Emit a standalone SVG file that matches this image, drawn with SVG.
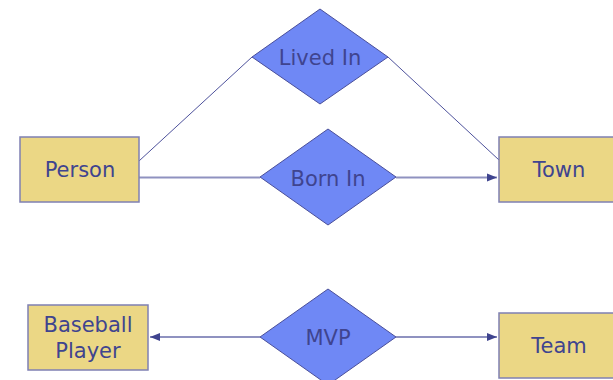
<svg xmlns="http://www.w3.org/2000/svg" width="613" height="380" viewBox="0 0 613 380">
<defs>
<style>
.ent{fill:#ebd785;stroke:#7f80b3;stroke-width:1.5}
.rel{fill:#6f88f5;stroke:#4a4f9a;stroke-width:1}
.lbl{font-family:"DejaVu Sans",Verdana,sans-serif;font-size:21px;fill:#3f448f;text-anchor:middle}
.c{stroke:#4e529c;stroke-width:1;fill:none}
.c2{stroke:#8f92c0;stroke-width:2;fill:none}
</style>
<marker id="ah" viewBox="0 0 10 10" refX="10" refY="5" markerWidth="10" markerHeight="10" markerUnits="userSpaceOnUse" orient="auto">
<path d="M0,1 L10,5 L0,9 z" fill="#3f448f"/>
</marker>
</defs>
<rect width="613" height="380" fill="#ffffff"/>
<g id="connectors">
<line class="c" x1="139" y1="161" x2="252" y2="57"/>
<line class="c" x1="388" y1="57" x2="499" y2="160"/>
<line class="c2" x1="139" y1="177.5" x2="260" y2="177.5"/>
<line class="c2" x1="396" y1="177.5" x2="497" y2="177.5" marker-end="url(#ah)"/>
<line class="c2" x1="260" y1="337" x2="150" y2="337" marker-end="url(#ah)"/>
<line class="c2" x1="396" y1="337" x2="497" y2="337" marker-end="url(#ah)"/>
</g>
<g id="person">
<rect class="ent" x="20" y="137" width="119" height="65"/>
<text class="lbl" x="80" y="177">Person</text>
</g>
<g id="lived-in">
<polygon class="rel" points="320,9 388,57 320,104 252,57"/>
<text class="lbl" x="320" y="65">Lived In</text>
</g>
<g id="born-in">
<polygon class="rel" points="328,129 396,177 328,225 260,177"/>
<text class="lbl" x="328" y="186">Born In</text>
</g>
<g id="town">
<rect class="ent" x="499" y="137" width="120" height="65"/>
<text class="lbl" x="559" y="177">Town</text>
</g>
<g id="baseball-player">
<rect class="ent" x="28" y="305" width="120" height="65"/>
<text class="lbl" x="88" y="332">Baseball</text>
<text class="lbl" x="88" y="358">Player</text>
</g>
<g id="mvp">
<polygon class="rel" points="328,289 396,337 328,385 260,337"/>
<text class="lbl" x="328" y="345">MVP</text>
</g>
<g id="team">
<rect class="ent" x="499" y="313" width="120" height="65"/>
<text class="lbl" x="559" y="353">Team</text>
</g>
</svg>
